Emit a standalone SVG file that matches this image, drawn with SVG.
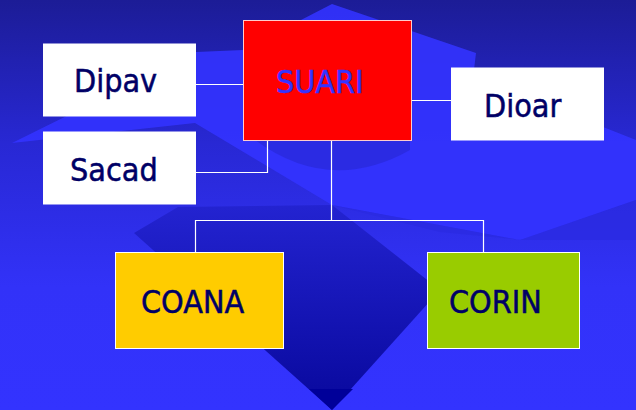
<svg xmlns="http://www.w3.org/2000/svg" width="636" height="410" viewBox="0 0 636 410">
<defs>
<linearGradient id="bg" x1="0" y1="0" x2="0" y2="1">
<stop offset="0" stop-color="#1c1c96"/>
<stop offset="0.35" stop-color="#2828d4"/>
<stop offset="0.7" stop-color="#3232f8"/>
<stop offset="1" stop-color="#3333ff"/>
</linearGradient>
<linearGradient id="dark" x1="0" y1="200" x2="0" y2="410" gradientUnits="userSpaceOnUse">
<stop offset="0" stop-color="#2424d2"/>
<stop offset="1" stop-color="#08089c"/>
</linearGradient>
<style>
.box{stroke-width:1}
.lbl{font-family:"DejaVu Sans Condensed","DejaVu Sans",sans-serif;font-size:32px;fill:#000066;stroke:#000066;stroke-width:0.5}
.conn{fill:none;stroke:#ffffff;stroke-width:1.2}
</style>
</defs>
<g id="background">
<rect x="0" y="0" width="636" height="410" fill="url(#bg)"/>
<polygon points="12,143 196,52 243,50 332,4 476,53 473,78 560,110 636,140 636,200 520,240 332,205 195,123" fill="#3333ff" opacity="0.9"/>
<path d="M255,140 Q330,195 410,150 L410,140 Z" fill="#2828d8" opacity="0.7"/>
<polygon points="195,123 332,205 520,240 636,200 636,240 523,240 440,232 332,205" fill="#2a2ae0" opacity="0.6"/>
<polygon points="134,233 178,207 332,205 440,290 332,410" fill="url(#dark)"/>
<polygon points="309,389 353,389 332,410" fill="#000099"/>
</g>
<g id="connectors">
<path class="conn" d="M196,84.5 H243"/>
<path class="conn" d="M411,100.5 H451"/>
<path class="conn" d="M267.5,140 V172.5 H196"/>
<path class="conn" d="M331.5,140 V220.5 M195.5,252 V220.5 H483.5 V252"/>
</g>
<g id="SUARI">
<rect x="243.5" y="20.5" width="168" height="120" fill="#ff0000" stroke="#ffcccc" class="box"/>
<text x="276" y="93" class="lbl" style="fill:#3333ff;stroke:#3333ff">SUARI</text>
</g>
<g id="Dipav">
<rect x="43" y="43.5" width="153" height="73" fill="#ffffff"/>
<text x="74" y="92" class="lbl">Dipav</text>
</g>
<g id="Sacad">
<rect x="43" y="131.5" width="153" height="73" fill="#ffffff"/>
<text x="70" y="181" class="lbl">Sacad</text>
</g>
<g id="Dioar">
<rect x="451" y="67.5" width="153" height="73" fill="#ffffff"/>
<text x="484" y="117" class="lbl">Dioar</text>
</g>
<g id="COANA">
<rect x="115.5" y="252.5" width="168" height="96" fill="#ffcc00" stroke="#ffffff" class="box"/>
<text x="141" y="313" class="lbl">COANA</text>
</g>
<g id="CORIN">
<rect x="427.5" y="252.5" width="152" height="96" fill="#99cc00" stroke="#ffffff" class="box"/>
<text x="449" y="313" class="lbl">CORIN</text>
</g>
</svg>
